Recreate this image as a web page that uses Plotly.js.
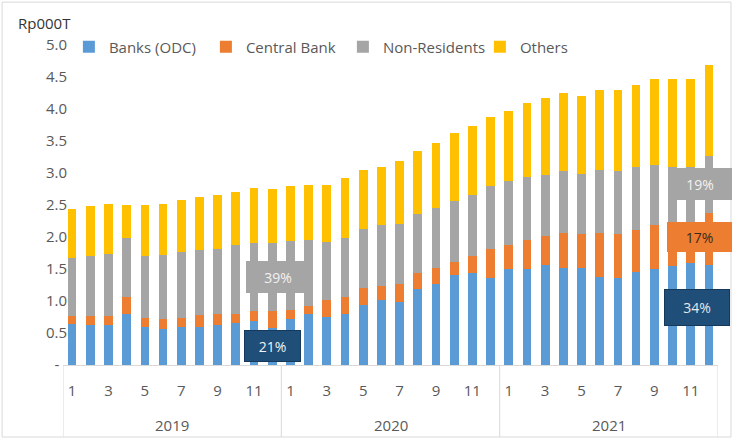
<!DOCTYPE html>
<html>
<head>
<meta charset="utf-8">
<script src="https://cdn.plot.ly/plotly-3.0.1.min.js"></script>
<style>html,body{margin:0;padding:0;background:#fff;}#chart{width:733px;height:441px;}</style>
</head>
<body>
<div id="chart"></div>
<script>
// Months (Jan 2019 .. Dec 2021)
var years = ["2019", "2020", "2021"];
var monthLabels = ["1","2","3","4","5","6","7","8","9","10","11","12"];
var seriesNames = ["Banks (ODC)", "Central Bank", "Non-Residents", "Others"];

// Rp000T, stacked segments
var banks = [0.64,0.62,0.62,0.80,0.59,0.57,0.59,0.59,0.62,0.66,0.68,0.58,
             0.72,0.80,0.75,0.80,0.93,1.02,0.98,1.19,1.27,1.40,1.44,1.36,
             1.50,1.50,1.57,1.52,1.52,1.38,1.36,1.46,1.50,1.55,1.59,1.57];
var centralBank = [0.12,0.14,0.14,0.26,0.15,0.15,0.15,0.19,0.18,0.13,0.16,0.26,
                   0.14,0.12,0.27,0.26,0.27,0.22,0.29,0.25,0.25,0.21,0.27,0.46,
                   0.38,0.45,0.44,0.55,0.52,0.69,0.69,0.65,0.68,0.65,0.63,0.81];
var nonResidents = [0.91,0.94,0.98,0.92,0.96,1.00,1.02,1.01,1.02,1.09,1.07,1.07,
                    1.07,1.03,0.90,0.92,0.92,0.94,0.94,0.92,0.93,0.96,0.95,0.98,
                    1.00,0.98,0.96,0.96,0.95,0.97,0.98,0.98,0.95,0.90,0.88,0.89];
var others = [0.76,0.79,0.78,0.52,0.80,0.80,0.82,0.83,0.83,0.83,0.86,0.84,
              0.86,0.87,0.90,0.94,0.93,0.92,0.97,0.98,1.02,1.06,1.08,1.07,
              1.09,1.16,1.20,1.22,1.22,1.25,1.27,1.29,1.34,1.37,1.37,1.41];

// Share call-outs
var calloutText = ["39%", "21%", "19%", "17%", "34%"];

var yTickVals = [0,0.5,1,1.5,2,2.5,3,3.5,4,4.5,5];
var yTickText = ["-\u00a0\u00a0","0.5","1.0","1.5","2.0","2.5","3.0","3.5","4.0","4.5","5.0"];

var colors = ["#5b9bd5", "#ed7d31", "#a5a5a5", "#ffc000"];
var seriesData = [banks, centralBank, nonResidents, others];

var xs = [];
for (var i = 0; i < years.length * 12; i++) xs.push(i + 1);

var xTickVals = [], xTickText = [];
for (var k = 0; k < xs.length; k++) {
  var m = monthLabels[k % 12];
  if (k % 2 === 0) { xTickVals.push(xs[k]); xTickText.push(m); }
}

var traces = seriesNames.map(function (name, idx) {
  return {
    type: "bar",
    name: name,
    x: xs,
    y: seriesData[idx],
    width: 0.48,
    marker: { color: colors[idx], line: { width: 0 } },
    hoverinfo: "skip"
  };
});

var grayLine = "#d9d9d9";
var shapes = [
  // outer chart border
  { type: "rect", xref: "paper", yref: "paper", x0: -0.093, x1: 1.0198, y0: -0.225, y1: 1.134,
    line: { color: grayLine, width: 1 }, layer: "below" }
];
// category box dividers
[0.5, 12.5, 24.5, 36.5].forEach(function (xv) {
  shapes.push({ type: "line", xref: "x", yref: "paper", x0: xv, x1: xv, y0: 0, y1: -0.225,
    line: { color: grayLine, width: 1 } });
});

var annotations = [
  { xref: "paper", yref: "paper", x: -0.072, y: 1.069, xanchor: "left", yanchor: "middle",
    text: "Rp000T", showarrow: false, font: { family: "Open Sans", size: 15, color: "#333333" } }
];
years.forEach(function (yr, j) {
  annotations.push({ xref: "x", yref: "paper", x: 6.5 + 12 * j, y: -0.1875, yanchor: "middle",
    text: yr, showarrow: false, font: { family: "Open Sans", size: 15, color: "#595959" } });
});

function callout(txt, x, y, w, h, bg, border, fc) {
  return { xref: "x", yref: "y", x: x, y: y, text: txt, showarrow: false,
    width: w, height: h, bgcolor: bg, bordercolor: border, borderwidth: 1, borderpad: 0,
    font: { family: "Open Sans", size: 14, color: fc }, valign: "middle", align: "center" };
}
annotations.push(callout(calloutText[0], 12.32, 1.37, 62, 30, "#a5a5a5", "#a5a5a5", "#f2f2f2"));
annotations.push(callout(calloutText[1], 12.02, 0.29, 55, 30, "#1f4e79", "#16385a", "#f2f2f2"));
annotations.push(callout(calloutText[2], 35.5, 2.83, 62, 30, "#a5a5a5", "#a5a5a5", "#f2f2f2"));
annotations.push(callout(calloutText[3], 35.47, 2.0, 63, 28, "#ed7d31", "#ed7d31", "#3b2a1e"));
annotations.push(callout(calloutText[4], 35.33, 0.90, 64, 35, "#1f4e79", "#16385a", "#e8e8e8"));

var layout = {
  width: 733, height: 441,
  margin: { l: 63, r: 15, t: 45, b: 76, pad: 0 },
  paper_bgcolor: "#ffffff", plot_bgcolor: "rgba(0,0,0,0)",
  barmode: "stack",
  showlegend: true,
  legend: { orientation: "h", x: 0.009, y: 0.994, xanchor: "left", yanchor: "middle",
    font: { family: "Open Sans", size: 15, color: "#595959" }, bgcolor: "rgba(0,0,0,0)",
    traceorder: "normal", itemwidth: 30, entrywidth: 92, entrywidthmode: "pixels" },
  xaxis: {
    range: [0.5, 36.5], tickmode: "array", tickvals: xTickVals, ticktext: xTickText,
    showgrid: false, zeroline: false, showline: true, linecolor: grayLine, linewidth: 1,
    ticks: "", ticklabelstandoff: 12,
    tickfont: { family: "Open Sans", size: 15, color: "#595959" }, fixedrange: true
  },
  yaxis: {
    range: [0, 5], tickmode: "array", tickvals: yTickVals, ticktext: yTickText,
    showgrid: false, zeroline: false, showline: false, ticks: "", ticklabelstandoff: -5,
    tickfont: { family: "Open Sans", size: 15, color: "#595959" }, fixedrange: true
  },
  shapes: shapes,
  annotations: annotations
};

Plotly.newPlot("chart", traces, layout, { displayModeBar: false, staticPlot: true });
</script>
</body>
</html>
